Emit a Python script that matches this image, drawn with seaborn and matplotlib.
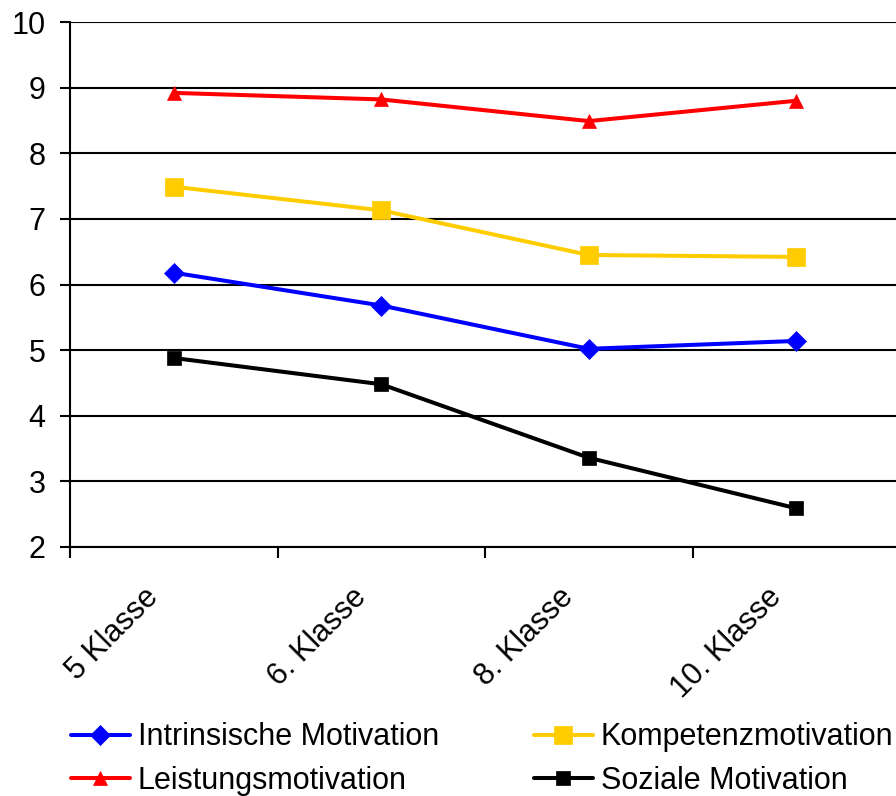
import matplotlib
matplotlib.use("Agg")
import matplotlib.pyplot as plt
from matplotlib.transforms import ScaledTranslation
import seaborn as sns
import pandas as pd

# Grade levels and motivation scores per series
grades = ["5 Klasse", "6. Klasse", "8. Klasse", "10. Klasse"]
intrinsisch = [6.18, 5.68, 5.02, 5.14]
kompetenz = [7.49, 7.13, 6.45, 6.42]
leistung = [8.92, 8.82, 8.49, 8.80]
sozial = [4.88, 4.48, 3.36, 2.59]

series_names = ["Intrinsische Motivation", "Kompetenzmotivation",
                "Leistungsmotivation", "Soziale Motivation"]
series_values = [intrinsisch, kompetenz, leistung, sozial]
colors = ["#0000FF", "#FFCC00", "#FF0000", "#000000"]
markers = ["D", "s", "^", "s"]
msizes = [10.5, 13.5, 10, 10]

rows = []
for name, vals in zip(series_names, series_values):
    for g, v in zip(grades, vals):
        rows.append({"Klasse": g, "Wert": v, "Serie": name})
df = pd.DataFrame(rows)

sns.set_theme(style="white")
plt.rcParams["font.family"] = ["Liberation Sans", "DejaVu Sans"]
plt.rcParams["text.color"] = "black"
plt.rcParams["xtick.color"] = "black"
plt.rcParams["ytick.color"] = "black"

fig = plt.figure(figsize=(8.96, 7.96), dpi=100)
ax = fig.add_axes([70 / 896, 1 - 547 / 796, 830 / 896, 525 / 796])

for name, col, mk, ms in zip(series_names, colors, markers, msizes):
    sub = df[df["Serie"] == name]
    sns.lineplot(data=sub, x="Klasse", y="Wert", ax=ax, color=col,
                 marker=mk, markersize=ms, markeredgecolor=col,
                 markeredgewidth=0.5, linewidth=2.9, label=name, zorder=3)

ax.set_xlim(-0.5, 3.5)
ax.set_ylim(2, 10)
ax.set_yticks(range(2, 11))
ax.grid(axis="y", color="black", linewidth=1.5)
ax.grid(axis="x", visible=False)
ax.set_axisbelow(True)

for s in ["top", "right"]:
    ax.spines[s].set_visible(False)
for s in ["left", "bottom"]:
    ax.spines[s].set_color("black")
    ax.spines[s].set_linewidth(1.5)

# Major x ticks sit on category boundaries, labels on category centres
ax.set_xticks([-0.5, 0.5, 1.5, 2.5])
ax.set_xticklabels([])
ax.set_xticks([0, 1, 2, 3], minor=True)
ax.set_xticklabels(grades, minor=True, rotation=45, ha="right", va="top",
                   rotation_mode="anchor", fontsize=22)
ax.tick_params(axis="x", which="major", direction="out", length=8,
               width=1.5, bottom=True)
ax.tick_params(axis="x", which="minor", length=0, pad=25)
ax.tick_params(axis="y", direction="out", length=7.5, width=1.5,
               labelsize=22, pad=10, left=True)
shift = ScaledTranslation(-30 / 100, 0, fig.dpi_scale_trans)
for lab in ax.get_xticklabels(minor=True):
    lab.set_transform(lab.get_transform() + shift)
ax.set_xlabel("")
ax.set_ylabel("")

h, l = ax.get_legend_handles_labels()
ax.get_legend().remove()
order = [0, 2, 1, 3]
fig.legend([h[i] for i in order], [l[i] for i in order], ncol=2,
           loc="lower left", bbox_to_anchor=(71 / 896, 0.0),
           frameon=False, fontsize=22, handlelength=1.93,
           handletextpad=0.26, columnspacing=3.1, labelspacing=0.45,
           borderpad=0.0, borderaxespad=0.0)

fig.savefig("out.png", dpi=100)
